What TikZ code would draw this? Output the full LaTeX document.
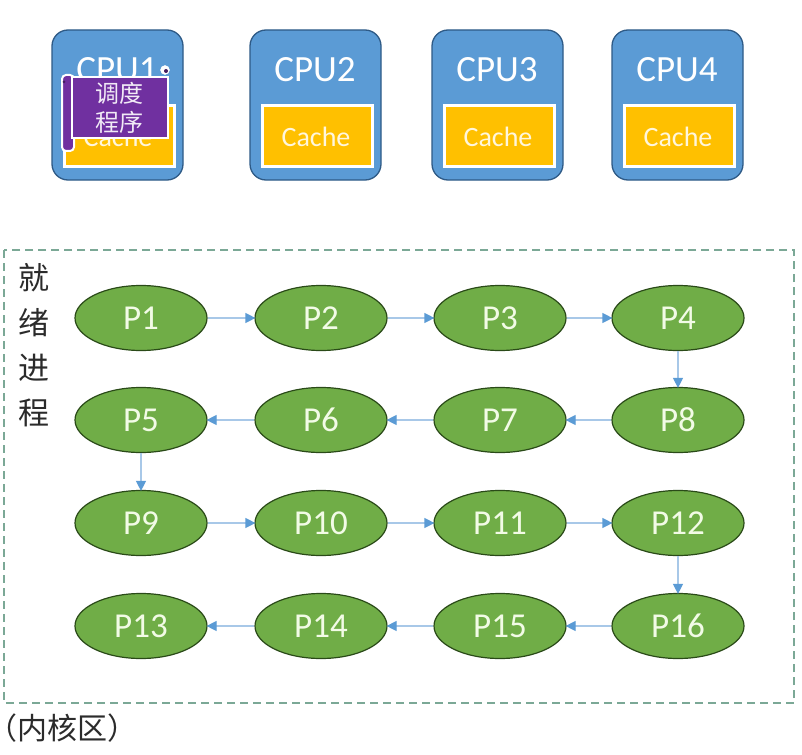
\documentclass[tikz,border=0pt]{standalone}
\usepackage{fontspec}
\setmainfont{Carlito}
\newfontfamily\cjk{Noto Sans CJK SC}
\usetikzlibrary{arrows.meta,shapes.geometric}
\definecolor{cpublue}{HTML}{5B9BD5}
\definecolor{cpuborder}{HTML}{2E5A86}
\definecolor{cacheyel}{HTML}{FFC000}
\definecolor{cachetxt}{HTML}{FFF6DC}
\definecolor{procgreen}{HTML}{70AD47}
\definecolor{procborder}{HTML}{2A4A18}
\definecolor{proctxt}{HTML}{F2FBE6}
\definecolor{arrline}{HTML}{A8C8E8}
\definecolor{arrtip}{HTML}{5B9BD5}
\definecolor{dashcol}{HTML}{7BA896}
\definecolor{scrollpurple}{HTML}{7030A0}
\definecolor{textgray}{HTML}{2B2B2B}
\tikzset{
  cpubox/.style={draw=cpuborder, line width=1.3pt, fill=cpublue, rounded corners=16pt},
  cachebox/.style={draw=white, line width=3pt, fill=cacheyel},
  cpulabel/.style={text=white, font=\fontsize{37}{40}\selectfont, inner sep=0pt},
  cachelabel/.style={text=cachetxt, font=\fontsize{28}{30}\selectfont, inner sep=0pt},
  proc/.style={ellipse, draw=procborder, line width=1.2pt, fill=procgreen,
     minimum width=132pt, minimum height=65pt, inner sep=0pt,
     text=proctxt, font=\fontsize{35}{38}\selectfont},
  flow/.style={draw=arrline, line width=1.2pt, -{Triangle[length=10pt,width=10pt,fill=arrtip,color=arrtip]}, shorten >=-1pt},
}
\begin{document}
\begin{tikzpicture}[x=1pt,y=-1pt]
\useasboundingbox (0,0) rectangle (802,754);
\fill[white] (0,0) rectangle (802,754);

% CPU boxes
\foreach \n/\x in {1/52,2/250,3/432,4/612}{
  \draw[cpubox] (\x,30) rectangle ++(131,150);
  \node[cpulabel] (cpu\n) at (\x+65,70) {CPU\n};
  \draw[cachebox] (\x+12,106) rectangle ++(110,61);
  \node[cachelabel] (cache\n) at (\x+66,137) {Cache};
}

% scheduler scroll on CPU1
\draw[fill=scrollpurple, draw=white, line width=2pt, rounded corners=4pt] (62,75) rectangle (74,151);
\draw[fill=scrollpurple, draw=white, line width=2pt] (72,77) rectangle (168,138);
\draw[fill=white, draw=white] (165,70) circle (4.5pt);
\fill[scrollpurple!60!black] (166,71) circle (2pt);
\fill[scrollpurple!60!black] (64,82) circle (1.5pt);
\node[text=white!90!scrollpurple, font=\cjk\fontsize{24}{29}\selectfont, align=center, inner sep=0pt] (sched) at (119,108) {调度\\程序};

% ready queue region
\draw[dashcol, line width=1.4pt, dash pattern=on 8pt off 5pt] (4,250) rectangle (794,703);
\node[text=textgray, font=\cjk\fontsize{31}{45}\selectfont, align=center, inner sep=0pt] (ready) at (34,345) {就\\绪\\进\\程};
\node[text=textgray, font=\cjk\fontsize{30}{32}\selectfont, anchor=west, inner sep=0pt] (kernel) at (-13,728) {（内核区）};

% processes
\node[proc] (p1) at (141,318) {P1};
\node[proc] (p2) at (321,318) {P2};
\node[proc] (p3) at (500,318) {P3};
\node[proc] (p4) at (678,318) {P4};
\node[proc] (p5) at (141,420) {P5};
\node[proc] (p6) at (321,420) {P6};
\node[proc] (p7) at (500,420) {P7};
\node[proc] (p8) at (678,420) {P8};
\node[proc] (p9) at (141,523) {P9};
\node[proc] (p10) at (321,523) {P10};
\node[proc] (p11) at (500,523) {P11};
\node[proc] (p12) at (678,523) {P12};
\node[proc] (p13) at (141,626) {P13};
\node[proc] (p14) at (321,626) {P14};
\node[proc] (p15) at (500,626) {P15};
\node[proc] (p16) at (678,626) {P16};

% connectors
\draw[flow] (p1) -- (p2);
\draw[flow] (p2) -- (p3);
\draw[flow] (p3) -- (p4);
\draw[flow] (p4) -- (p8);
\draw[flow] (p8) -- (p7);
\draw[flow] (p7) -- (p6);
\draw[flow] (p6) -- (p5);
\draw[flow] (p5) -- (p9);
\draw[flow] (p9) -- (p10);
\draw[flow] (p10) -- (p11);
\draw[flow] (p11) -- (p12);
\draw[flow] (p12) -- (p16);
\draw[flow] (p16) -- (p15);
\draw[flow] (p15) -- (p14);
\draw[flow] (p14) -- (p13);
\end{tikzpicture}
\end{document}
